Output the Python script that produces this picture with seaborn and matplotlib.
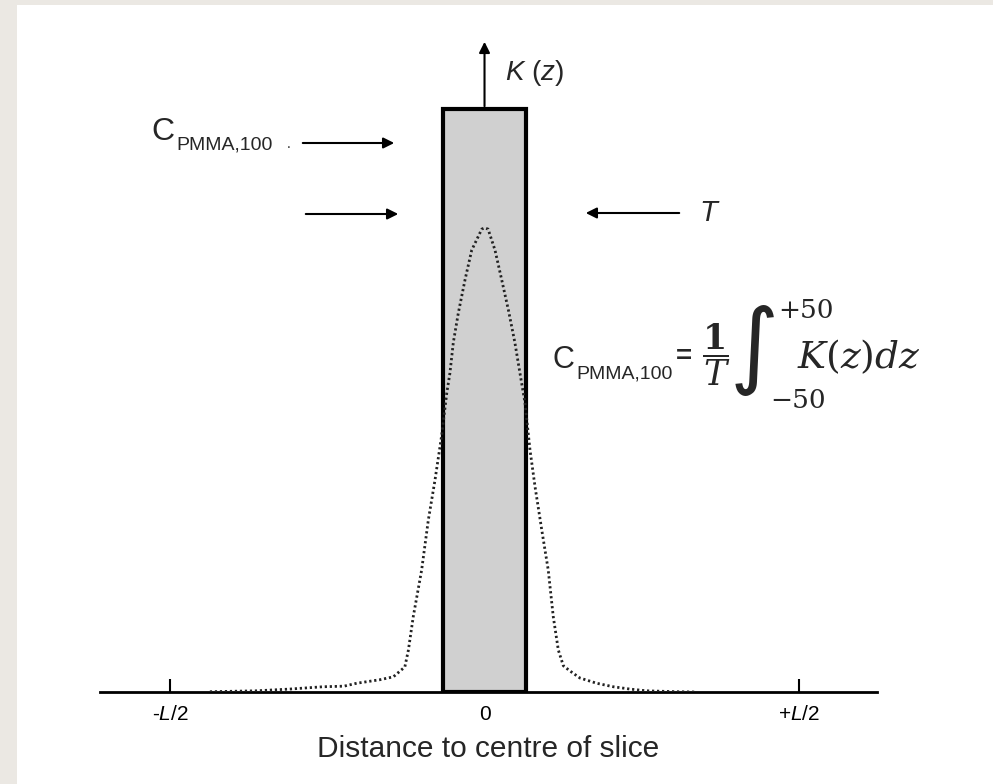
import numpy as np
import pandas as pd
import matplotlib.pyplot as plt
from matplotlib.patches import Rectangle
import seaborn as sns

# profilo di dose K(z) (z in mm, K relativo all'altezza della fetta)
z_mm = [-131, -109, -93, -77, -67, -61, -50, -43.5, -38, -36.3, -34, -30, -26.8,
        -23.6, -20.4, -18, -16.5, -14.9, -12.5, -9.3, -6.1, -1.3, 0,
        1.7, 5, 8.2, 11.4, 14.5, 16.9, 19.3, 21.7, 24.1, 27.3, 30.4, 32.8,
        35.2, 37.6, 40.8, 45.5, 53.5, 61.4, 69.4, 77.4, 91.7, 100.4]
k_rel = [0.0005, 0.002, 0.005, 0.009, 0.010, 0.015, 0.021, 0.026, 0.043, 0.072,
         0.129, 0.209, 0.295, 0.364, 0.441, 0.513, 0.547, 0.599, 0.650, 0.707,
         0.758, 0.794, 0.796,
         0.794, 0.758, 0.707, 0.655, 0.599, 0.547, 0.496, 0.415, 0.352, 0.278,
         0.209, 0.129, 0.072, 0.045, 0.036, 0.024, 0.015, 0.009, 0.005, 0.002,
         0.0005, 0.0]

# fetta nominale (larghezza T)
slice_centre = [0]
slice_width = [40]
slice_height = [1.0]

# tick dell'asse x
tick_pos = [-150, 0, 150]
tick_labels = [r'-$\mathit{L/2}$', '0', r'+$\mathit{L/2}$']

df = pd.DataFrame({'z': z_mm, 'K': k_rel})

sns.set_style('white')
plt.rcParams['font.family'] = ['Liberation Sans', 'DejaVu Sans']
plt.rcParams['mathtext.fontset'] = 'custom'
plt.rcParams['mathtext.rm'] = 'Liberation Sans'
plt.rcParams['mathtext.it'] = 'Liberation Sans:italic'

W, H = 993, 784
fig = plt.figure(figsize=(W / 100, H / 100), dpi=100)
fig.patch.set_facecolor('#ebe8e3')
fig.patches.append(Rectangle((17 / W, 0), 1, (H - 5) / H, transform=fig.transFigure,
                             facecolor='white', edgecolor='none', zorder=-1))


def px(x, y):
    return (x / W, 1 - y / H)


ax = fig.add_axes([100 / W, 92 / H, 777 / W, 662 / H])
ax.set_facecolor('none')

# rettangolo della fetta
ax.bar(slice_centre, slice_height, width=slice_width, color='#d0d0d0',
       edgecolor='black', linewidth=3, zorder=1)

# profilo di dose tratteggiato
sns.lineplot(data=df, x='z', y='K', ax=ax, color='#222222', linewidth=2,
             linestyle=(0, (0.8, 1.0)), zorder=3)

ax.set_xlim(-183.4, 187.2)
ax.set_ylim(0, 1.1355)
for s in ['top', 'left', 'right']:
    ax.spines[s].set_visible(False)
ax.spines['bottom'].set_linewidth(2)
ax.spines['bottom'].set_color('black')
ax.set_yticks([])
ax.set_xticks(tick_pos)
ax.set_xticklabels(tick_labels, fontsize=15)
ax.tick_params(axis='x', bottom=True, direction='in', length=9.5, width=1.5, pad=9,
               colors='black')
ax.set_xlabel('Distance to centre of slice', fontsize=21.5, labelpad=8)
ax.set_ylabel('')

# freccia K(z)
ax.annotate('', xy=(0, 1.12), xytext=(0, 1.0),
            arrowprops=dict(arrowstyle='-|>', color='black', lw=1.5, mutation_scale=16))
fig.text(*px(505, 73), r'$K$ ($z$)', fontsize=20, va='center', ha='left')

# etichetta C_PMMA,100 in alto
fig.text(*px(151, 140), 'C', fontsize=23, va='baseline')
fig.text(*px(176, 150), 'PMMA,100', fontsize=14, va='baseline')
fig.text(*px(287, 148), '.', fontsize=10, va='baseline')

arrow = dict(arrowstyle='-|>', color='black', lw=1.5, mutation_scale=16)
fig.add_artist(plt.Annotation('', xy=px(397, 143), xytext=px(300, 143),
                              xycoords='figure fraction', arrowprops=arrow))
fig.add_artist(plt.Annotation('', xy=px(401, 214), xytext=px(303, 214),
                              xycoords='figure fraction', arrowprops=arrow))
fig.add_artist(plt.Annotation('', xy=px(583, 213), xytext=px(682, 213),
                              xycoords='figure fraction', arrowprops=arrow))
fig.text(*px(699, 213), 'T', fontsize=21, style='italic', va='center')

# formula
fig.text(*px(552, 368), 'C', fontsize=22, va='baseline')
fig.text(*px(576, 378), 'PMMA,100', fontsize=14, va='baseline')
fig.text(*px(676, 357), '=', fontsize=20, va='center', fontweight='bold')
fig.text(*px(716, 355), r'$\dfrac{\mathbf{1}}{T}$', fontsize=25, va='center',
         ha='center', math_fontfamily='dejavuserif')
fig.text(*px(754, 350), '\u222b', fontsize=68, va='center', ha='center',
         family='DejaVu Sans')
fig.text(*px(778, 318), '+50', fontsize=19, va='baseline', family='DejaVu Serif')
fig.text(*px(770, 408), '\u221250', fontsize=19, va='baseline', family='DejaVu Serif')
fig.text(*px(797, 368), r'$K(z)dz$', fontsize=27, va='baseline',
         math_fontfamily='dejavuserif')

fig.savefig('out.png', dpi=100, facecolor=fig.get_facecolor())
